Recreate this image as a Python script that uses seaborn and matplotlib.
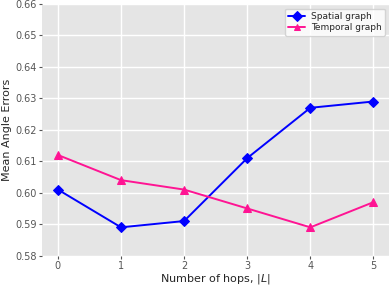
import matplotlib
matplotlib.use("Agg")
import matplotlib.pyplot as plt
import seaborn as sns
import pandas as pd

hops = [0, 1, 2, 3, 4, 5]
spatial = [0.601, 0.589, 0.591, 0.611, 0.627, 0.629]
temporal = [0.612, 0.604, 0.601, 0.595, 0.589, 0.597]
yticks = [0.58, 0.59, 0.60, 0.61, 0.62, 0.63, 0.64, 0.65, 0.66]

sns.set_style("darkgrid", {
    "axes.facecolor": "#E5E5E5",
    "grid.color": "white",
    "axes.edgecolor": "white",
    "xtick.bottom": True,
    "ytick.left": True,
    "xtick.color": "#555555",
    "ytick.color": "#555555",
})
plt.rcParams["font.family"] = ["DejaVu Sans"]

fig = plt.figure(figsize=(3.9, 2.85), dpi=100)
ax = fig.add_axes([0.108, 0.103, 0.89, 0.883])

df_s = pd.DataFrame({"hops": hops, "err": spatial})
df_t = pd.DataFrame({"hops": hops, "err": temporal})
sns.lineplot(data=df_s, x="hops", y="err", ax=ax, color="#0000FF", marker="D",
             markersize=5.5, markeredgecolor="#0000FF", linewidth=1.4, label="Spatial graph")
sns.lineplot(data=df_t, x="hops", y="err", ax=ax, color="#FF1493", marker="^",
             markersize=5.5, markeredgecolor="#FF1493", linewidth=1.4, label="Temporal graph")

ax.set_ylim(0.58, 0.66)
ax.set_yticks(yticks)
ax.set_yticklabels([f"{v:.2f}" for v in yticks])
ax.set_xticks(hops)
ax.tick_params(labelsize=7, length=2.5, width=0.8, pad=1.5)
ax.set_xlabel("Number of hops, $|L|$", fontsize=8, labelpad=0.5)
ax.set_ylabel("Mean Angle Errors", fontsize=8, labelpad=2)
ax.grid(True, color="white", linewidth=1)
for s in ax.spines.values():
    s.set_visible(False)
leg = ax.legend(loc="upper right", fontsize=6.5, frameon=True, facecolor="white",
                edgecolor="#CCCCCC", framealpha=0.8, borderaxespad=0.5,
                handlelength=1.9, labelspacing=0.3, markerscale=0.9,
                borderpad=0.35, handletextpad=0.6)

plt.savefig("out.png", dpi=100)
plt.close()
